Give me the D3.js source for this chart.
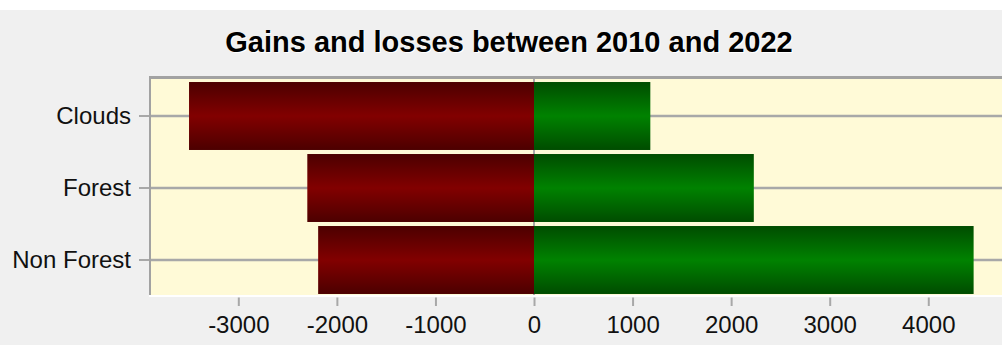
<!DOCTYPE html>
<html>
<head>
<meta charset="utf-8">
<script src="https://cdn.jsdelivr.net/npm/d3@7/dist/d3.min.js"></script>
<style>
  html, body { margin: 0; padding: 0; background: #ffffff; }
  svg { display: block; }
</style>
</head>
<body>
<script>
// Land-cover change per class, 2010 → 2022
const categories = ["Clouds", "Forest", "Non Forest"];
const losses = [-3500, -2300, -2190];
const gains = [1180, 2230, 4460];
const xTicks = [-3000, -2000, -1000, 0, 1000, 2000, 3000, 4000];
const title = "Gains and losses between 2010 and 2022";

const W = 1002, H = 345;
const plot = { left: 150, right: 1002, top: 79, bottom: 296 };

const svg = d3.select("body").append("svg")
  .attr("width", W).attr("height", H);

// backgrounds
svg.append("rect").attr("x", 0).attr("y", 10).attr("width", W).attr("height", H - 10)
  .attr("fill", "#f0f0f0");

const defs = svg.append("defs");
function vGrad(id, edge, mid) {
  const g = defs.append("linearGradient").attr("id", id)
    .attr("x1", 0).attr("y1", 0).attr("x2", 0).attr("y2", 1);
  g.append("stop").attr("offset", "0%").attr("stop-color", edge);
  g.append("stop").attr("offset", "50%").attr("stop-color", mid);
  g.append("stop").attr("offset", "100%").attr("stop-color", edge);
}
vGrad("lossGrad", "#4c0000", "#820000");
vGrad("gainGrad", "#004c00", "#008200");

const x = d3.scaleLinear().domain([-3896, 4748]).range([plot.left, plot.right]);
const y = d3.scaleBand().domain(categories)
  .range([plot.top + 1, plot.bottom])
  .paddingInner(0.056).paddingOuter(0.028);

// plot area
svg.append("rect")
  .attr("x", plot.left).attr("y", plot.top)
  .attr("width", plot.right - plot.left).attr("height", plot.bottom - plot.top)
  .attr("fill", "#fffad7");

// horizontal grid lines at category centres
svg.append("g").selectAll("line").data(categories).join("line")
  .attr("x1", plot.left).attr("x2", plot.right)
  .attr("y1", d => y(d) + y.bandwidth() / 2)
  .attr("y2", d => y(d) + y.bandwidth() / 2)
  .attr("stroke", "#a8a8a8").attr("stroke-width", 2.5);

// zero line
svg.append("line")
  .attr("x1", x(0)).attr("x2", x(0))
  .attr("y1", plot.top).attr("y2", plot.bottom)
  .attr("stroke", "#a8a8a8").attr("stroke-width", 2);

// bars
const rows = categories.map((c, i) => ({ c, loss: losses[i], gain: gains[i] }));
svg.append("g").selectAll("rect").data(rows).join("rect")
  .attr("x", d => x(d.loss)).attr("y", d => y(d.c))
  .attr("width", d => x(0) - x(d.loss)).attr("height", y.bandwidth())
  .attr("fill", "url(#lossGrad)");
svg.append("g").selectAll("rect").data(rows).join("rect")
  .attr("x", x(0)).attr("y", d => y(d.c))
  .attr("width", d => x(d.gain) - x(0)).attr("height", y.bandwidth())
  .attr("fill", "url(#gainGrad)");

// frame: grey top and left edges, light bottom edge
svg.append("rect").attr("x", plot.left - 1).attr("y", plot.top - 3)
  .attr("width", plot.right - plot.left + 1).attr("height", 3).attr("fill", "#a2a2a2");
svg.append("rect").attr("x", plot.left - 1).attr("y", plot.top - 3)
  .attr("width", 2).attr("height", plot.bottom - plot.top + 3).attr("fill", "#a2a2a2");
svg.append("rect").attr("x", plot.left - 1).attr("y", plot.bottom - 1)
  .attr("width", plot.right - plot.left + 1).attr("height", 2).attr("fill", "#ffffff");

// y axis
const yAxis = svg.append("g")
  .attr("transform", `translate(${plot.left - 1},0)`)
  .call(d3.axisLeft(y).tickSize(10).tickPadding(8));
yAxis.select(".domain").remove();
yAxis.selectAll(".tick line").attr("stroke", "#a8a8a8").attr("stroke-width", 2);
yAxis.selectAll(".tick text")
  .attr("font-family", "Liberation Sans, Arial, sans-serif")
  .attr("font-size", 24).attr("fill", "#111");

// x axis
const xAxis = svg.append("g")
  .attr("transform", `translate(0,${plot.bottom + 1.5})`)
  .call(d3.axisBottom(x).tickValues(xTicks).tickFormat(d => String(d))
    .tickSize(8.5).tickPadding(10));
xAxis.select(".domain").remove();
xAxis.selectAll(".tick line").attr("stroke", "#a8a8a8").attr("stroke-width", 2);
xAxis.selectAll(".tick text")
  .attr("font-family", "Liberation Sans, Arial, sans-serif")
  .attr("font-size", 24).attr("fill", "#111");

// title with light drop shadow
const tg = svg.append("g").attr("font-family", "Liberation Sans, Arial, sans-serif")
  .attr("font-weight", "bold").attr("font-size", 29).attr("text-anchor", "middle");
tg.append("text").attr("x", 510).attr("y", 53).attr("fill", "#ffffff").text(title);
tg.append("text").attr("x", 509).attr("y", 52).attr("fill", "#000000").text(title);
</script>
</body>
</html>
